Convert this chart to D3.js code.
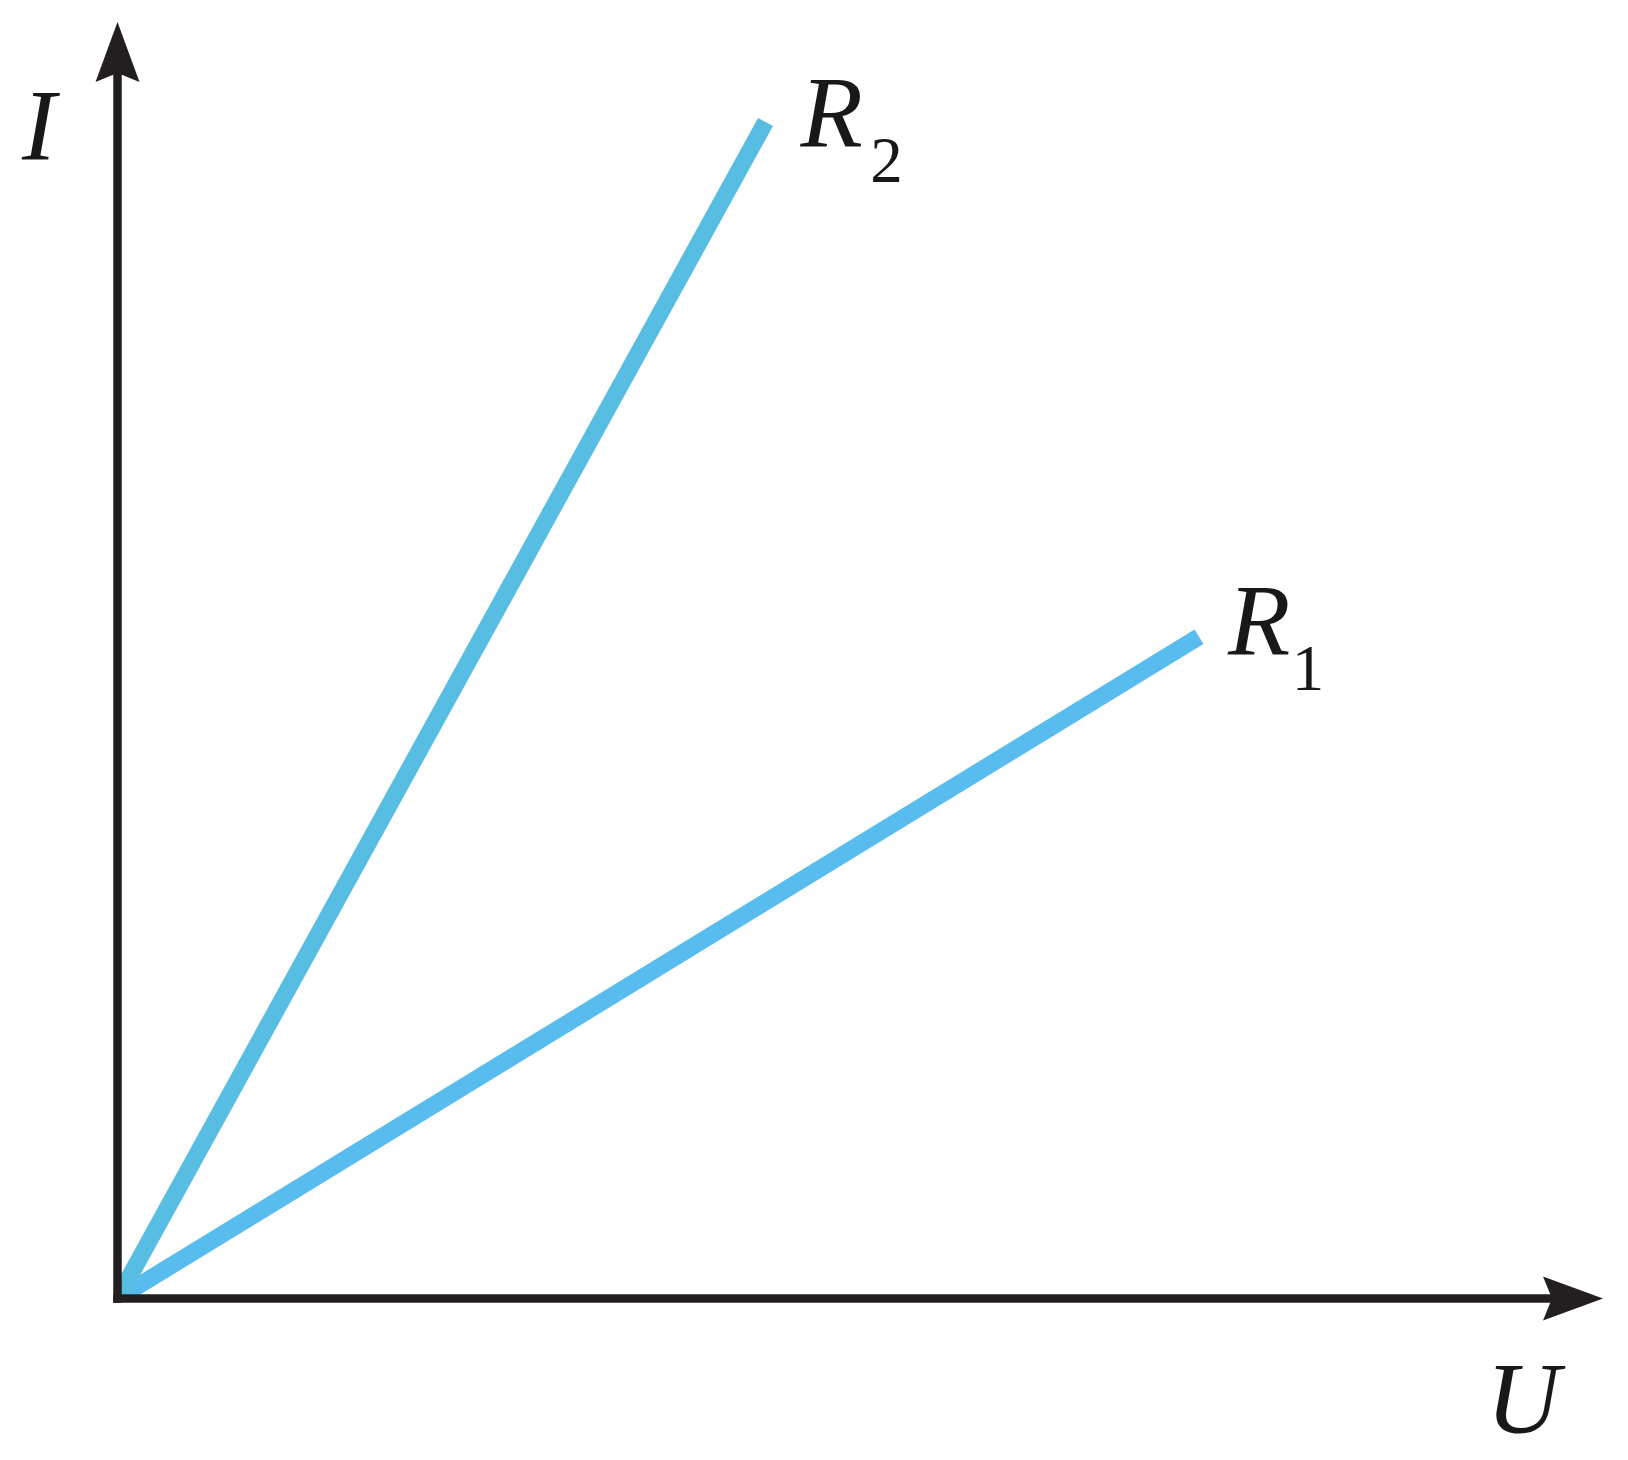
<!DOCTYPE html>
<html>
<head>
<meta charset="utf-8">
<script src="https://cdn.jsdelivr.net/npm/d3@7"></script>
<style>
  html, body { margin: 0; padding: 0; background: #ffffff; }
  svg { display: block; }
</style>
</head>
<body>
<svg id="chart" width="1628" height="1460"></svg>
<script>
// ---- data (U, I) ----
const seriesNames = ["R1", "R2"];
const r1Points = [[0, 0], [10.815, 6.618]];
const r2Points = [[0, 0], [6.48, 11.765]];
const axisMax = { U: 14.345, I: 12.255 };
const axisLabels = { x: "U", y: "I" };

// ---- layout ----
const W = 1628, H = 1460;
const origin = { x: 117.5, y: 1298.5 };
const unit = 100;
const x = d3.scaleLinear().domain([0, 15]).range([origin.x, origin.x + 15 * unit]);
const y = d3.scaleLinear().domain([0, 13]).range([origin.y, origin.y - 13 * unit]);

const svg = d3.select("#chart");
const axisColor = "#231f20";

svg.append("defs").append("clipPath").attr("id", "plotClip")
  .append("rect")
  .attr("x", x(0)).attr("y", 0)
  .attr("width", W - x(0)).attr("height", y(0));

const line = d3.line().x(d => x(d[0])).y(d => y(d[1]));

const series = [
  { name: "R1", pts: r1Points, color: "#58bdee" },
  { name: "R2", pts: r2Points, color: "#57bde2" }
];

svg.append("g").attr("clip-path", "url(#plotClip)")
  .selectAll("path")
  .data(series)
  .join("path")
  .attr("d", d => line(d.pts))
  .attr("fill", "none")
  .attr("stroke", d => d.color)
  .attr("stroke-width", 17)
  .attr("stroke-linecap", "butt");

// axes
const axW = 8.5;
svg.append("line")
  .attr("x1", x(0)).attr("y1", y(0) + axW / 2)
  .attr("x2", x(0)).attr("y2", y(axisMax.I))
  .attr("stroke", axisColor).attr("stroke-width", axW);
svg.append("line")
  .attr("x1", x(0) - axW / 2).attr("y1", y(0))
  .attr("x2", x(axisMax.U)).attr("y2", y(0))
  .attr("stroke", axisColor).attr("stroke-width", axW);

// arrowheads
const aLen = 60, aHalf = 22, aNotch = 9;
{
  const nx = x(0), ny = y(axisMax.I);
  const tipY = ny - (aLen - aNotch);
  svg.append("path")
    .attr("d", `M${nx},${tipY} L${nx + aHalf},${tipY + aLen} L${nx},${ny} L${nx - aHalf},${tipY + aLen} Z`)
    .attr("fill", axisColor);
}
{
  const nx = x(axisMax.U), ny = y(0);
  const tipX = nx + (aLen - aNotch);
  svg.append("path")
    .attr("d", `M${tipX},${ny} L${tipX - aLen},${ny - aHalf} L${nx},${ny} L${tipX - aLen},${ny + aHalf} Z`)
    .attr("fill", axisColor);
}

// labels
const font = "'Liberation Serif', 'Times New Roman', serif";
function label(txt, px, py, size, anchor) {
  return svg.append("text")
    .attr("x", px).attr("y", py)
    .attr("font-family", font)
    .attr("font-style", "italic")
    .attr("font-size", size)
    .attr("fill", "#1a1718")
    .attr("text-anchor", anchor || "start")
    .text(txt);
}
label(axisLabels.y, 39, 160, 102, "middle");
label(axisLabels.x, 1523, 1433, 102, "middle");

const ends = {
  R1: r1Points[r1Points.length - 1],
  R2: r2Points[r2Points.length - 1]
};
// R2
label("R", x(ends.R2[0]) + 35, y(ends.R2[1]) + 25, 102, "start");
svg.append("text")
  .attr("x", x(ends.R2[0]) + 121).attr("y", y(ends.R2[1]) + 60)
  .attr("font-family", font).attr("font-size", 65)
  .attr("fill", "#1a1718").attr("text-anchor", "middle").text("2");
// R1
label("R", x(ends.R1[0]) + 29, y(ends.R1[1]) + 18, 102, "start");
svg.append("text")
  .attr("x", x(ends.R1[0]) + 109).attr("y", y(ends.R1[1]) + 53)
  .attr("font-family", font).attr("font-size", 65)
  .attr("fill", "#1a1718").attr("text-anchor", "middle").text("1");
</script>
</body>
</html>
